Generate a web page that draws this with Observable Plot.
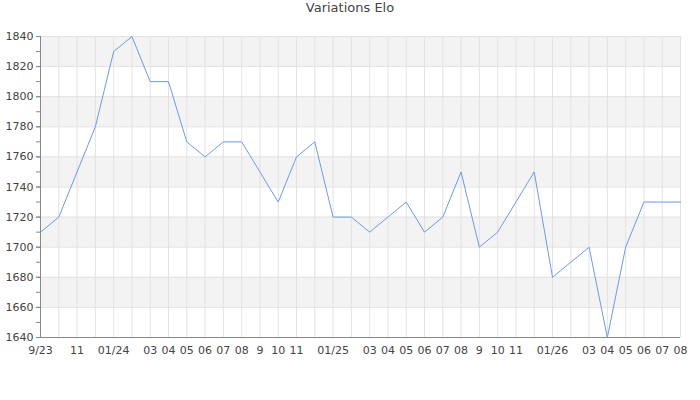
<!DOCTYPE html>
<html>
<head>
<meta charset="utf-8">
<script src="https://cdn.jsdelivr.net/npm/d3@7"></script>
<script src="https://cdn.jsdelivr.net/npm/@observablehq/plot@0.6"></script>
<style>
  html, body { margin: 0; padding: 0; background: #fff; }
  #title { height: 24px; line-height: 24px; text-align: center; font: 13px "DejaVu Sans", sans-serif; color: #444; }
  svg { display: block; }
</style>
</head>
<body>
<div id="title">Variations Elo</div>
<div id="chart"></div>
<script>
const months = ["2023-09","2023-10","2023-11","2023-12","2024-01","2024-02","2024-03","2024-04","2024-05","2024-06","2024-07","2024-08","2024-09","2024-10","2024-11","2024-12","2025-01","2025-02","2025-03","2025-04","2025-05","2025-06","2025-07","2025-08","2025-09","2025-10","2025-11","2025-12","2026-01","2026-02","2026-03","2026-04","2026-05","2026-06","2026-07","2026-08"];
const elo = [1710,1720,1750,1780,1830,1840,1810,1810,1770,1760,1770,1770,1750,1730,1760,1770,1720,1720,1710,1720,1730,1710,1720,1750,1700,1710,1730,1750,1680,1690,1700,1640,1700,1730,1730,1730];
const tickLabels = ["9/23","","11","","01/24","","03","04","05","06","07","08","9","10","11","","01/25","","03","04","05","06","07","08","9","10","11","","01/26","","03","04","05","06","07","08"];
const yTicks = [1640,1660,1680,1700,1720,1740,1760,1780,1800,1820,1840];

const data = months.map((m, i) => ({month: m, elo: elo[i]}));
const labelOf = new Map(months.map((m, i) => [m, tickLabels[i]]));
const bands = yTicks.filter((t, i) => i % 2 === 1 && i < yTicks.length - 1);
const minor = d3.range(yTicks[0], yTicks[yTicks.length - 1] + 1, 10);

const chart = Plot.plot({
  width: 700,
  height: 376,
  marginLeft: 40,
  marginRight: 20,
  marginTop: 12,
  marginBottom: 63,
  style: {fontFamily: "DejaVu Sans, sans-serif", fontSize: "11px", color: "#444", background: "#fff"},
  x: {type: "point", domain: months, padding: 0, round: false, label: null},
  y: {domain: [1640, 1840], label: null},
  marks: [
    Plot.rect(bands, {y1: d => d, y2: d => d + 20, fill: "#f3f3f3"}),
    Plot.gridX(months, {stroke: "#e2e2e2", strokeOpacity: 1}),
    Plot.gridY(yTicks, {stroke: "#e2e2e2", strokeOpacity: 1}),
    Plot.axisY(minor, {tickSize: 4, tickFormat: () => "", stroke: "#888"}),
    Plot.axisY(yTicks, {tickSize: 4, tickPadding: 3, tickFormat: d => String(d), stroke: "#888", fill: "#444"}),
    Plot.axisX(months, {tickSize: 0, tickPadding: 9, tickFormat: d => labelOf.get(d), fill: "#444"}),
    Plot.ruleX([months[0]], {stroke: "#888"}),
    Plot.ruleY([1640], {stroke: "#888"}),
    Plot.line(data, {x: "month", y: "elo", stroke: "#6d9ae8", strokeWidth: 1})
  ]
});
document.getElementById("chart").appendChild(chart);
</script>
</body>
</html>
